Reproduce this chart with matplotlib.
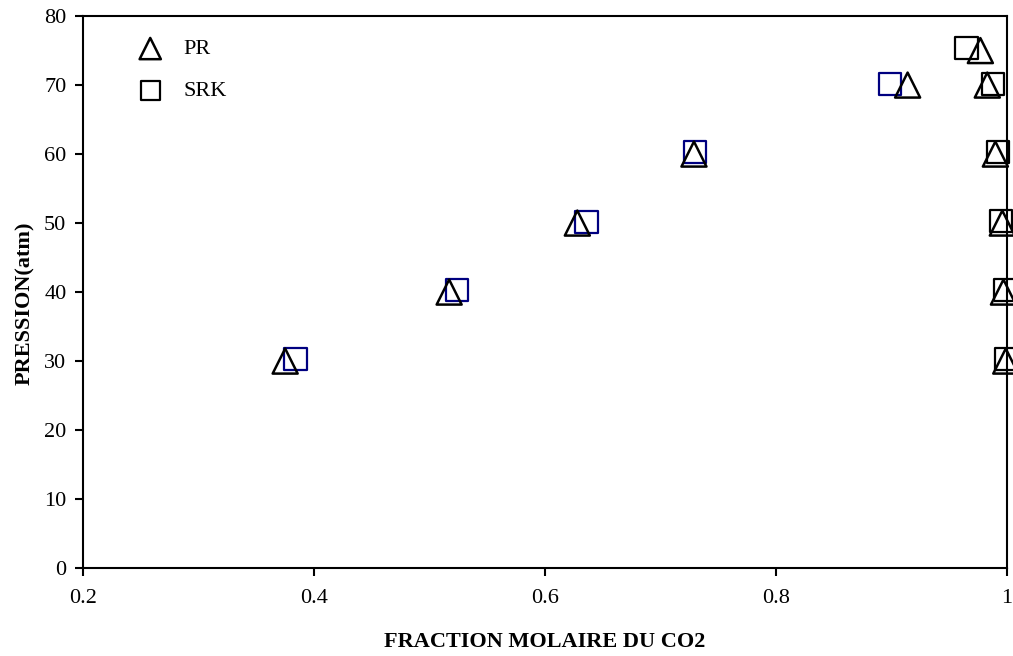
import numpy as np
import matplotlib.pyplot as plt

plt.rcParams['font.family'] = ['Liberation Serif', 'DejaVu Serif']

# PR (Peng-Robinson)
pr_x = [0.375, 0.517, 0.628, 0.729, 0.914, 0.977, 0.983, 0.990, 0.996, 0.997, 0.999]
pr_p = [30, 40, 50, 60, 70, 75, 70, 60, 50, 40, 30]

# SRK (Soave-Redlich-Kwong)
srk_x = [0.384, 0.524, 0.636, 0.730, 0.899, 0.965, 0.988, 0.992, 0.995, 0.998, 0.999]
srk_p = [30.3, 40.3, 50.2, 60.3, 70.2, 75.4, 70.2, 60.3, 50.3, 40.3, 30.3]
srk_edge = ['#000080'] * 5 + ['black'] * 6

fig = plt.figure(figsize=(10.13, 6.56), dpi=100)
ax = fig.add_axes([0.082, 0.134, 0.912, 0.8415])

ax.scatter(srk_x, srk_p, marker='s', s=16**2, facecolors='none',
           edgecolors=srk_edge, linewidths=1.6, label='SRK', zorder=3, clip_on=False)
ax.scatter(pr_x, pr_p, marker='^', s=18**2, facecolors='none',
           edgecolors='black', linewidths=1.8, label='PR', zorder=4, clip_on=False)

ax.set_xlim(0.2, 1.0)
ax.set_ylim(0, 80)
ax.set_xticks([0.2, 0.4, 0.6, 0.8, 1.0])
ax.set_xticklabels(['0.2', '0.4', '0.6', '0.8', '1'])
ax.set_yticks(np.arange(0, 81, 10))
ax.tick_params(direction='out', length=6, width=1.5, labelsize=16)
ax.tick_params(axis='x', pad=9)
ax.tick_params(axis='y', pad=6)
for sp in ax.spines.values():
    sp.set_linewidth(1.5)

ax.set_xlabel('FRACTION MOLAIRE DU CO2', fontsize=16, fontweight='bold')
ax.set_ylabel('PRESSION(atm)', fontsize=16, fontweight='bold')
ax.xaxis.set_label_coords(0.5, -0.115)
ax.yaxis.set_label_coords(-0.052, 0.48)

h, l = ax.get_legend_handles_labels()
leg = ax.legend(h[::-1], l[::-1], loc='upper left', bbox_to_anchor=(0.027, 0.995),
                frameon=False, fontsize=16, markerscale=0.85, handletextpad=0.5,
                labelspacing=0.95)
for hdl in leg.legend_handles:
    hdl.set_edgecolor('black')

fig.savefig('out.png', dpi=100)
